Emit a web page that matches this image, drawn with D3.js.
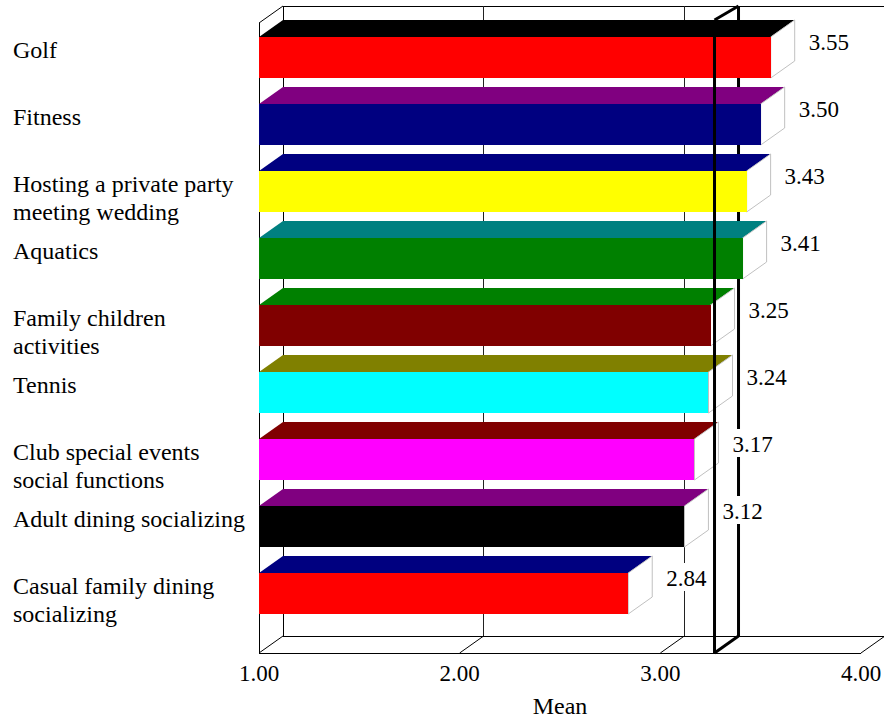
<!DOCTYPE html>
<html>
<head>
<meta charset="utf-8">
<script src="https://cdn.jsdelivr.net/npm/d3@7"></script>
<style>
  html, body { margin: 0; padding: 0; background: #fff; }
  svg { display: block; }
</style>
</head>
<body>
<svg id="chart" width="884" height="719"></svg>
<script>
// Mean rating per club amenity
const categories = [
  "Golf",
  "Fitness",
  "Hosting a private party meeting wedding",
  "Aquatics",
  "Family children activities",
  "Tennis",
  "Club special events social functions",
  "Adult dining socializing",
  "Casual family dining socializing"
];
const categoryLines = [
  ["Golf"],
  ["Fitness"],
  ["Hosting a private party", "meeting wedding"],
  ["Aquatics"],
  ["Family children", "activities"],
  ["Tennis"],
  ["Club special events", "social functions"],
  ["Adult dining socializing"],
  ["Casual family dining", "socializing"]
];
const means = [3.55, 3.50, 3.43, 3.41, 3.25, 3.24, 3.17, 3.12, 2.84];
const frontColors = ["#ff0000", "#000080", "#ffff00", "#008000", "#800000", "#00ffff", "#ff00ff", "#000000", "#ff0000"];
const topColors   = ["#000000", "#800080", "#000080", "#008080", "#008000", "#808000", "#800000", "#800080", "#000080"];
const xTicks = [1, 2, 3, 4];
const xTickLabels = ["1.00", "2.00", "3.00", "4.00"];
const referenceMean = 3.27;
const xTitle = "Mean";

const FONT = "'Liberation Serif', 'Times New Roman', Times, 'DejaVu Serif', serif";
const svg = d3.select("#chart").attr("font-family", FONT);

// Front plane geometry and depth offset of the 3D box
const plotTop = 23, plotBottom = 653;
const depthX = 24, depthY = -17;

const x = d3.scaleLinear().domain([1, 4]).range([259, 861]);
const y = d3.scaleBand().domain(categories).range([24, 627])
  .paddingInner(0.388).paddingOuter(0.194);

const x0 = x(1), x1 = x(4);
const bx0 = x0 + depthX, bx1 = x1 + depthX;
const bTop = plotTop + depthY, bBottom = plotBottom + depthY;

const line = (g, x1_, y1_, x2_, y2_, stroke, w) =>
  g.append("line").attr("x1", x1_).attr("y1", y1_).attr("x2", x2_).attr("y2", y2_)
    .attr("stroke", stroke).attr("stroke-width", w || 1);

// Back wall
const wall = svg.append("g").attr("shape-rendering", "crispEdges");
line(wall, bx0, bTop, bx1 + 2, bTop, "#000");
line(wall, bx0, bTop, bx0, bBottom, "#000");
line(wall, bx0, bBottom, bx1, bBottom, "#000");
line(wall, bx1, bTop, bx1, bBottom, "#000");
xTicks.slice(1, -1).forEach(t => line(wall, x(t) + depthX, bTop, x(t) + depthX, bBottom, "#222"));

// Side wall and floor
const edges = svg.append("g");
line(edges, x0, plotTop, x0, plotBottom, "#000").attr("shape-rendering", "crispEdges");
line(edges, x0, plotTop, bx0, bTop, "#000");
line(edges, x0, plotBottom, x1, plotBottom, "#000").attr("shape-rendering", "crispEdges");
xTicks.forEach(t => line(edges, x(t), plotBottom, x(t) + depthX, bBottom, "#000"));

// Reference plane, rear edge (behind the bars)
const rx = x(referenceMean);
line(svg, rx + depthX, bTop, rx + depthX, bBottom, "#000", 3);

// Bars: top face, side face, front face
const bars = svg.append("g");
categories.forEach((c, i) => {
  const v = means[i];
  const xl = x(1), xr = x(v);
  const yt = y(c), yb = y(c) + y.bandwidth();
  const g = bars.append("g");
  g.append("polygon")
    .attr("points", [[xl, yt], [xl + depthX, yt + depthY], [xr + depthX, yt + depthY], [xr, yt]].join(" "))
    .attr("fill", topColors[i]);
  g.append("polygon")
    .attr("points", [[xr, yt], [xr + depthX, yt + depthY], [xr + depthX, yb + depthY], [xr, yb]].join(" "))
    .attr("fill", "#fff").attr("stroke", "#c0c0c0").attr("stroke-width", 1);
  g.append("rect")
    .attr("x", xl).attr("y", yt).attr("width", xr - xl).attr("height", yb - yt)
    .attr("fill", frontColors[i]).attr("shape-rendering", "crispEdges");
});

// Value labels on a white ground
const labels = svg.append("g");
categories.forEach((c, i) => {
  const lx = x(means[i]) + depthX + 14;
  const ly = y(c) + 13;
  const t = labels.append("text").attr("x", lx).attr("y", ly)
    .attr("font-family", FONT).attr("font-size", 23).text(means[i].toFixed(2));
  const bb = t.node().getBBox();
  labels.insert("rect", () => t.node())
    .attr("x", bb.x - 1).attr("y", ly - 23).attr("width", bb.width + 2).attr("height", 28)
    .attr("fill", "#fff");
});

// Reference plane, front edge and its diagonals
line(svg, rx, plotTop - 3, rx, plotBottom, "#000", 3);
line(svg, rx, plotTop - 3, rx + depthX, bTop, "#000", 3);
line(svg, rx, plotBottom, rx + depthX, bBottom, "#000", 3);

// Category labels
const cat = svg.append("g");
categories.forEach((c, i) => {
  const t = cat.append("text").attr("x", 13).attr("y", y(c) + 21)
    .attr("font-family", FONT).attr("font-size", 24);
  categoryLines[i].forEach((ln, j) => {
    t.append("tspan").attr("x", 13).attr("dy", j === 0 ? 0 : 28).text(ln);
  });
});

// Value axis labels
svg.append("g").selectAll("text").data(xTicks).join("text")
  .attr("x", d => x(d)).attr("y", 681).attr("text-anchor", "middle")
  .attr("font-family", FONT).attr("font-size", 23).text((d, i) => xTickLabels[i]);

svg.append("text").attr("x", (x0 + x1) / 2).attr("y", 714)
  .attr("text-anchor", "middle").attr("font-family", FONT).attr("font-size", 24).text(xTitle);
</script>
</body>
</html>
